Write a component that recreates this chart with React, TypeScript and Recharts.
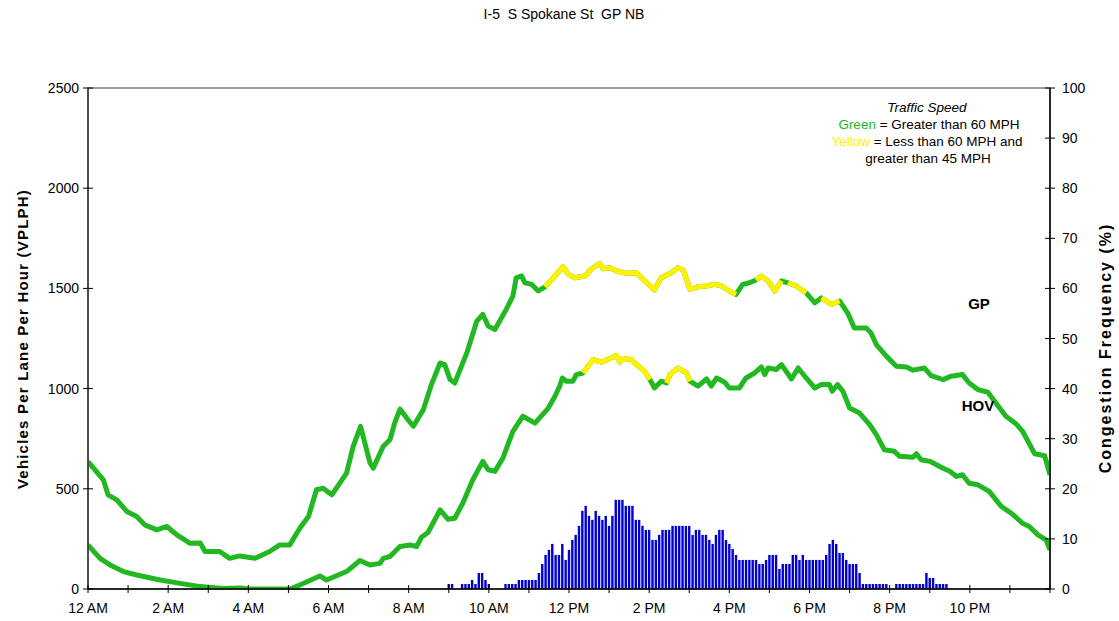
import React from 'react';
import { ComposedChart, Line, Bar, XAxis, YAxis, ReferenceArea } from 'recharts';

// ---------- data ----------
const chartTitle = 'I-5  S Spokane St  GP NB';

const xTickMinutes = [0, 60, 120, 180, 240, 300, 360, 420, 480, 540, 600, 660, 720, 780, 840, 900, 960, 1020, 1080, 1140, 1200, 1260, 1320, 1380, 1440];
const xLabelMinutes = [0, 120, 240, 360, 480, 600, 720, 840, 960, 1080, 1200, 1320];
const xLabels = ['12 AM', '2 AM', '4 AM', '6 AM', '8 AM', '10 AM', '12 PM', '2 PM', '4 PM', '6 PM', '8 PM', '10 PM'];
const leftTicks = [0, 500, 1000, 1500, 2000, 2500];
const rightTicks = [0, 10, 20, 30, 40, 50, 60, 70, 80, 90, 100];

// GP volume (VPLPH), minutes after midnight
const gpMinutes = [0, 23, 30, 43, 58, 73, 85, 103, 118, 133, 153, 168, 175, 197, 212, 227, 250, 272, 287, 302, 317, 330, 342, 352, 365, 387, 397, 408, 422, 427, 442, 452, 459, 467, 477, 487, 502, 514, 527, 534, 542, 549, 567, 582, 591, 599, 609, 626, 636, 641, 649, 654, 664, 674, 684, 699, 711, 719, 729, 744, 754, 766, 771, 781, 791, 806, 821, 831, 848, 858, 873, 883, 891, 901, 913, 926, 938, 948, 960, 970, 980, 990, 1000, 1008, 1018, 1028, 1038, 1048, 1060, 1075, 1088, 1098, 1113, 1125, 1137, 1147, 1165, 1172, 1180, 1195, 1210, 1225, 1235, 1252, 1262, 1280, 1292, 1309, 1319, 1332, 1347, 1359, 1374, 1389, 1399, 1417, 1432, 1440];
const gpVolume = [636, 545, 470, 445, 387, 362, 320, 295, 312, 270, 228, 230, 187, 187, 153, 165, 153, 187, 220, 220, 303, 362, 495, 503, 470, 578, 712, 812, 630, 603, 712, 745, 828, 898, 853, 812, 895, 1020, 1128, 1120, 1045, 1028, 1178, 1337, 1370, 1312, 1295, 1395, 1462, 1553, 1562, 1528, 1520, 1487, 1508, 1562, 1608, 1570, 1553, 1562, 1598, 1625, 1598, 1603, 1587, 1575, 1578, 1545, 1492, 1553, 1578, 1603, 1592, 1495, 1508, 1512, 1520, 1513, 1487, 1470, 1520, 1528, 1542, 1562, 1537, 1487, 1537, 1528, 1512, 1478, 1428, 1453, 1420, 1437, 1378, 1303, 1303, 1278, 1220, 1162, 1112, 1108, 1092, 1103, 1065, 1045, 1062, 1070, 1028, 995, 982, 928, 862, 825, 787, 675, 665, 570];
// periods (minutes) when GP speed was 45-60 MPH (yellow)
const gpYellowStart = [684, 1000, 1048, 1098];
const gpYellowEnd = [970, 1038, 1075, 1125];

// HOV volume (VPLPH)
const hovMinutes = [0, 18, 33, 53, 73, 108, 138, 168, 202, 227, 242, 302, 317, 347, 357, 387, 407, 422, 437, 442, 452, 467, 482, 492, 499, 509, 527, 539, 549, 561, 576, 591, 599, 609, 621, 636, 651, 669, 689, 699, 706, 710, 716, 726, 731, 741, 756, 769, 778, 791, 796, 801, 813, 821, 833, 841, 848, 858, 866, 871, 883, 896, 901, 913, 926, 933, 941, 953, 960, 975, 985, 998, 1008, 1013, 1018, 1030, 1038, 1053, 1063, 1075, 1088, 1098, 1110, 1114, 1122, 1130, 1140, 1155, 1170, 1180, 1192, 1207, 1215, 1235, 1240, 1247, 1260, 1280, 1290, 1300, 1309, 1319, 1332, 1349, 1367, 1382, 1399, 1409, 1422, 1434, 1440];
const hovVolume = [220, 153, 120, 87, 70, 45, 28, 12, 3, 5, 0, 0, 20, 65, 45, 87, 142, 120, 128, 153, 162, 212, 220, 212, 258, 282, 395, 348, 353, 428, 545, 637, 595, 587, 653, 787, 862, 828, 903, 962, 1012, 1053, 1037, 1037, 1070, 1078, 1145, 1132, 1145, 1165, 1132, 1150, 1145, 1120, 1087, 1045, 1003, 1037, 1028, 1070, 1103, 1078, 1037, 1012, 1048, 1012, 1053, 1032, 1003, 1003, 1053, 1078, 1108, 1070, 1103, 1095, 1120, 1048, 1103, 1053, 1003, 1020, 1020, 987, 1020, 987, 903, 878, 820, 770, 695, 687, 662, 658, 675, 645, 637, 603, 587, 562, 570, 528, 520, 487, 412, 378, 328, 312, 270, 245, 195];
const hovYellowStart = [741, 866];
const hovYellowEnd = [841, 901];

// congestion frequency (%), one value per 5-minute interval, 288 values
const congestionPct = [
  0, 0, 0, 0, 0, 0, 0, 0, 0, 0, 0, 0,
  0, 0, 0, 0, 0, 0, 0, 0, 0, 0, 0, 0,
  0, 0, 0, 0, 0, 0, 0, 0, 0, 0, 0, 0,
  0, 0, 0, 0, 0, 0, 0, 0, 0, 0, 0, 0,
  0, 0, 0, 0, 0, 0, 0, 0, 0, 0, 0, 0,
  0, 0, 0, 0, 0, 0, 0, 0, 0, 0, 0, 0,
  0, 0, 0, 0, 0, 0, 0, 0, 0, 0, 0, 0,
  0, 0, 0, 0, 0, 0, 0, 0, 0, 0, 0, 0,
  0, 0, 0, 0, 0, 0, 0, 0, 0, 0, 0, 0,
  1.0, 1.0, 0, 0, 1.0, 1.0, 1.0, 1.8, 1.0, 3.2, 3.2, 1.8,
  1.0, 0, 0, 0, 0, 1.0, 1.0, 1.0, 1.0, 1.8, 1.8, 1.8,
  1.8, 1.8, 1.8, 3.2, 5.0, 6.8, 7.8, 9.0, 6.8, 6.8, 9.0, 5.8,
  7.8, 9.8, 10.8, 12.6, 15.6, 16.6, 14.6, 13.8, 15.6, 14.6, 13.8, 14.6,
  12.6, 14.6, 17.8, 17.8, 17.8, 16.6, 16.6, 16.6, 13.8, 13.8, 12.6, 11.8,
  11.8, 9.8, 9.8, 10.8, 11.8, 11.8, 11.8, 12.6, 12.6, 12.6, 12.6, 12.6,
  12.6, 10.8, 11.8, 11.8, 10.8, 10.8, 9.8, 9.0, 10.8, 11.8, 11.8, 9.8,
  9.0, 8.0, 6.8, 5.8, 5.8, 5.8, 5.8, 5.8, 5.8, 5.0, 5.0, 5.8,
  6.8, 6.8, 6.8, 4.0, 5.0, 5.0, 5.0, 6.8, 6.8, 5.8, 6.8, 5.8,
  5.8, 5.8, 5.8, 5.8, 5.8, 6.8, 9.0, 9.8, 9.0, 7.2, 7.2, 5.8,
  5.0, 5.0, 5.0, 3.2, 1.0, 1.0, 1.0, 1.0, 1.0, 1.0, 1.0, 1.0,
  0, 0, 1.0, 1.0, 1.0, 1.0, 1.0, 1.0, 1.0, 1.0, 1.0, 3.2,
  2.2, 2.2, 1.0, 1.0, 1.0, 1.0, 0, 0, 0, 0, 0, 0,
  0, 0, 0, 0, 0, 0, 0, 0, 0, 0, 0, 0,
  0, 0, 0, 0, 0, 0, 0, 0, 0, 0, 0, 0,
];

// ---------- derived tables ----------
const barData = congestionPct.map((p, i) => ({ t: i * 5, pct: p }));
const toSeries = (times: number[], vals: number[]) => times.map((t, i) => ({ t, v: vals[i] }));
const yellowSeries = (times: number[], vals: number[], starts: number[], ends: number[]) => {
  const out: { t: number; v: number | null }[] = [];
  starts.forEach((s, k) => {
    times.forEach((t, i) => {
      if (t >= s && t <= ends[k]) out.push({ t, v: vals[i] });
    });
    out.push({ t: ends[k] + 0.5, v: null });
  });
  return out;
};
const gpData = toSeries(gpMinutes, gpVolume);
const hovData = toSeries(hovMinutes, hovVolume);
const gpYellow = yellowSeries(gpMinutes, gpVolume, gpYellowStart, gpYellowEnd);
const hovYellow = yellowSeries(hovMinutes, hovVolume, hovYellowStart, hovYellowEnd);

// ---------- styles ----------
const FONT = '"Liberation Sans", Arial, sans-serif';
const GREEN = '#22B822';
const YELLOW = '#FFF200';
const BLUE = '#0000D0';
const BAR_W = 2.4;

const XTick = (props: any) => {
  const { x, y, payload } = props;
  const idx = xLabelMinutes.indexOf(payload.value);
  return (
    <g>
      <line x1={x} x2={x} y1={y - 4} y2={y + 4} stroke="#000" strokeWidth={1} />
      {idx >= 0 && (
        <text x={x} y={y + 24} textAnchor="middle" fontSize={14} fontFamily={FONT} fill="#000">
          {xLabels[idx]}
        </text>
      )}
    </g>
  );
};

const LeftTick = (props: any) => {
  const { x, y, payload } = props;
  return (
    <g>
      <line x1={x - 5} x2={x + 5} y1={y} y2={y} stroke="#000" strokeWidth={1} />
      <text x={x - 9} y={y + 5} textAnchor="end" fontSize={14} fontFamily={FONT} fill="#000">
        {payload.value}
      </text>
    </g>
  );
};

const RightTick = (props: any) => {
  const { x, y, payload } = props;
  return (
    <g>
      <line x1={x - 5} x2={x + 5} y1={y} y2={y} stroke="#000" strokeWidth={1} />
      <text x={x + 12} y={y + 5} textAnchor="start" fontSize={14} fontFamily={FONT} fill="#000">
        {payload.value}
      </text>
    </g>
  );
};

const BarShape = (props: any) => {
  const { x, y, width, height } = props;
  if (!height || height <= 0) return <g />;
  const cx = x + width / 2;
  return <rect x={cx - BAR_W / 2} y={y} width={BAR_W} height={height} fill={BLUE} />;
};

export default function App() {
  const W = 1111;
  const H = 613;
  return (
    <div style={{ position: 'fixed', left: 0, top: 0, width: 1119, height: 621, overflow: 'hidden', background: '#fff', fontFamily: FONT }}>
      <div style={{ position: 'absolute', left: 8, top: 8, width: W, height: H }}>
        <ComposedChart width={W} height={H} data={barData} margin={{ top: 80, right: 0, bottom: 0, left: 0 }}>
          <XAxis
            dataKey="t"
            type="number"
            domain={[0, 1440]}
            ticks={xTickMinutes}
            interval={0}
            height={32}
            tickSize={0}
            tickMargin={0}
            tick={(p: any) => <XTick {...p} />}
            axisLine={{ stroke: '#000', strokeWidth: 1.5 }}
            allowDataOverflow
          />
          <YAxis
            yAxisId="left"
            orientation="left"
            width={80}
            domain={[0, 2500]}
            ticks={leftTicks}
            interval={0}
            tickSize={0}
            tickMargin={0}
            tick={(p: any) => <LeftTick {...p} />}
            axisLine={{ stroke: '#333', strokeWidth: 1.5 }}
            allowDataOverflow
          />
          <YAxis
            yAxisId="right"
            orientation="right"
            width={69}
            domain={[0, 100]}
            ticks={rightTicks}
            interval={0}
            tickSize={0}
            tickMargin={0}
            tick={(p: any) => <RightTick {...p} />}
            axisLine={{ stroke: '#000', strokeWidth: 1.5 }}
            allowDataOverflow
          />
          <ReferenceArea
            yAxisId="left"
            x1={0}
            x2={1440}
            y1={0}
            y2={2500}
            fill="none"
            stroke="#808080"
            strokeWidth={1.5}
            ifOverflow="visible"
          />
          <Bar yAxisId="right" dataKey="pct" fill={BLUE} barSize={BAR_W} shape={(p: any) => <BarShape {...p} />} isAnimationActive={false} />
          <Line yAxisId="left" data={gpData} dataKey="v" type="linear" stroke={GREEN} strokeWidth={5} dot={false} activeDot={false} strokeLinejoin="round" isAnimationActive={false} />
          <Line yAxisId="left" data={hovData} dataKey="v" type="linear" stroke={GREEN} strokeWidth={5} dot={false} activeDot={false} strokeLinejoin="round" isAnimationActive={false} />
          <Line yAxisId="left" data={gpYellow} dataKey="v" type="linear" stroke={YELLOW} strokeWidth={5} dot={false} activeDot={false} strokeLinejoin="round" connectNulls={false} isAnimationActive={false} />
          <Line yAxisId="left" data={hovYellow} dataKey="v" type="linear" stroke={YELLOW} strokeWidth={5} dot={false} activeDot={false} strokeLinejoin="round" connectNulls={false} isAnimationActive={false} />
        </ComposedChart>
      </div>
      <svg width={1119} height={621} style={{ position: 'absolute', left: 0, top: 0, pointerEvents: 'none' }}>
        <text x={564} y={19} textAnchor="middle" fontSize={14} fontFamily={FONT} fill="#000" style={{ whiteSpace: 'pre' }}>
          {chartTitle}
        </text>
        <text x={927} y={112} textAnchor="middle" fontSize={13.5} fontStyle="italic" fontFamily={FONT} fill="#000">Traffic Speed</text>
        <text x={929} y={129} textAnchor="middle" fontSize={13.5} fontFamily={FONT} fill="#000">
          <tspan fill={GREEN}>Green</tspan> = Greater than 60 MPH
        </text>
        <text x={927} y={146} textAnchor="middle" fontSize={13.5} fontFamily={FONT} fill="#000">
          <tspan fill={YELLOW}>Yellow</tspan> = Less than 60 MPH and
        </text>
        <text x={928} y={163} textAnchor="middle" fontSize={13.5} fontFamily={FONT} fill="#000">greater than 45 MPH</text>
        <text x={979} y={309} textAnchor="middle" fontSize={15} fontWeight="bold" fontFamily={FONT} fill="#000">GP</text>
        <text x={978} y={411} textAnchor="middle" fontSize={15} fontWeight="bold" fontFamily={FONT} fill="#000">HOV</text>
        <text
          x={22}
          y={339}
          transform="rotate(-90 22 339)"
          textAnchor="middle"
          dominantBaseline="central"
          fontSize={15}
          fontWeight="bold"
          letterSpacing={1.2}
          fontFamily={FONT}
          fill="#000"
        >
          Vehicles Per Lane Per Hour (VPLPH)
        </text>
        <text
          x={1105}
          y={348}
          transform="rotate(-90 1105 348)"
          textAnchor="middle"
          dominantBaseline="central"
          fontSize={16}
          fontWeight="bold"
          letterSpacing={2}
          fontFamily={FONT}
          fill="#000"
        >
          Congestion Frequency (%)
        </text>
      </svg>
    </div>
  );
}
